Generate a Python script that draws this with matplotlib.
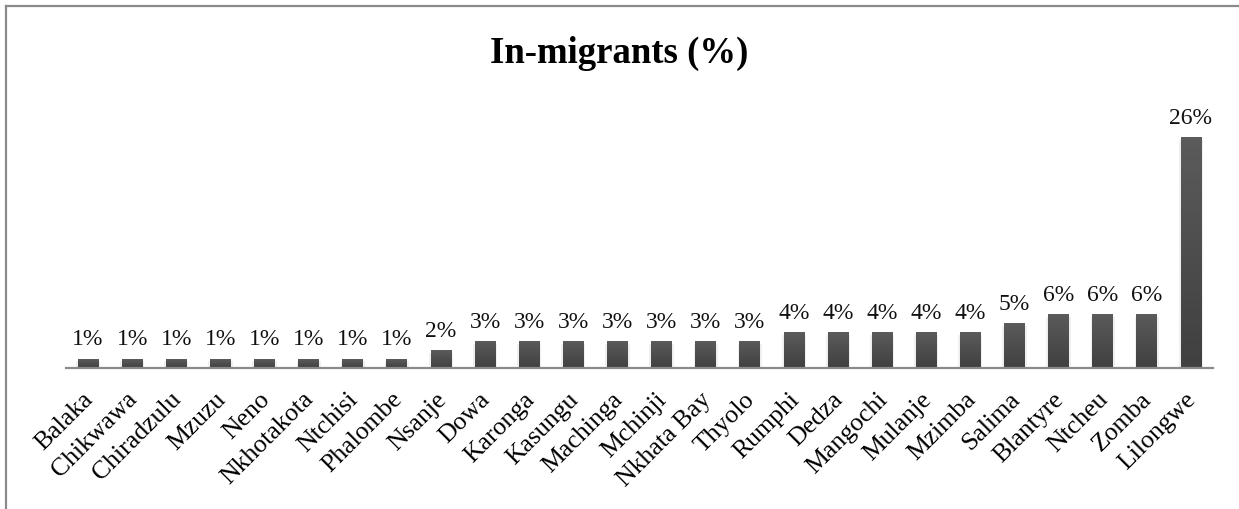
import numpy as np
import matplotlib.pyplot as plt
from matplotlib.lines import Line2D
from matplotlib.colors import LinearSegmentedColormap
import matplotlib.transforms as mtransforms

districts = ["Balaka", "Chikwawa", "Chiradzulu", "Mzuzu", "Neno", "Nkhotakota",
             "Ntchisi", "Phalombe", "Nsanje", "Dowa", "Karonga", "Kasungu",
             "Machinga", "Mchinji", "Nkhata Bay", "Thyolo", "Rumphi", "Dedza",
             "Mangochi", "Mulanje", "Mzimba", "Salima", "Blantyre", "Ntcheu",
             "Zomba", "Lilongwe"]
in_migrants = [1, 1, 1, 1, 1, 1, 1, 1, 2, 3, 3, 3, 3, 3, 3, 3, 4, 4, 4, 4, 4,
               5, 6, 6, 6, 26]

plt.rcParams['font.family'] = ['Liberation Serif', 'DejaVu Serif']

W, H = 1239, 510
fig = plt.figure(figsize=(W / 100, H / 100), dpi=100)
fig.patch.set_facecolor('white')

# plot area in pixel units
left_px, right_px, bottom_px, top_px = 66, 1213, 369, 100
ax = fig.add_axes([left_px / W, 1 - bottom_px / H,
                   (right_px - left_px) / W, (bottom_px - top_px) / H])

n = len(districts)
x = np.arange(n)
bar_w = 0.47

# vertical gradient fill for each bar
grad = np.linspace(0, 1, 64).reshape(-1, 1)
cmap = LinearSegmentedColormap.from_list('bar', ['#404040', '#5b5b5b'])
for xi, v in zip(x, in_migrants):
    # soft shadow around the bar base
    ax.bar(xi, v + 0.15, width=bar_w + 0.08, bottom=-0.4, color='#000000',
           alpha=0.06, zorder=1, linewidth=0)
    ax.imshow(grad, cmap=cmap, aspect='auto', origin='lower',
              extent=(xi - bar_w / 2, xi + bar_w / 2, 0, v), zorder=2)
    ax.annotate(f"{v}%", (xi, v), xytext=(0, 7), textcoords='offset points',
                ha='center', va='bottom', fontsize=17, color='#111111')

ax.set_xlim(-0.5, n - 0.5)
ax.set_ylim(0, 30.4)

for s in ['top', 'right', 'left']:
    ax.spines[s].set_visible(False)
ax.spines['bottom'].set_color('#8a8a8a')
ax.spines['bottom'].set_linewidth(1.6)
ax.spines['bottom'].set_zorder(3)
ax.set_yticks([])
ax.set_xticks(x)
ax.set_xticklabels(districts, rotation=45, ha='right', rotation_mode='anchor',
                   fontsize=18.5)
ax.tick_params(axis='x', length=0, pad=14)
shift = mtransforms.ScaledTranslation(-6 / 100, 0, fig.dpi_scale_trans)
for lbl in ax.get_xticklabels():
    lbl.set_transform(lbl.get_transform() + shift)

fig.text(0.5, 1 - 53 / H, "In-migrants (%)", ha='center', va='center',
         fontsize=26.5, fontweight='bold')

# outer frame (top and left edges)
fig.add_artist(Line2D([6 / W, 1], [1 - 7 / H, 1 - 7 / H], color='#8a8a8a',
                      linewidth=1.6, transform=fig.transFigure))
fig.add_artist(Line2D([6 / W, 6 / W], [0, 1 - 7 / H], color='#8a8a8a',
                      linewidth=1.6, transform=fig.transFigure))

fig.savefig('out.png', dpi=100)
